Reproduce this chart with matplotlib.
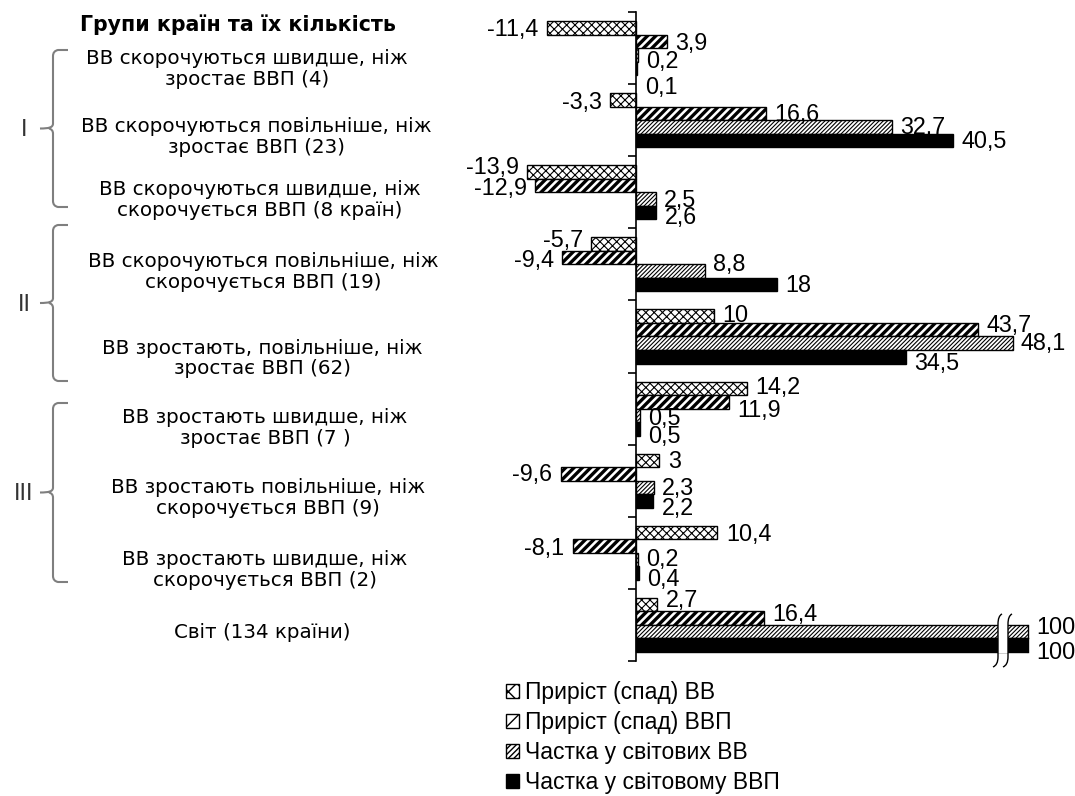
import numpy as np
import matplotlib
matplotlib.use("Agg")
import matplotlib.pyplot as plt
from matplotlib.patches import Patch, Rectangle, PathPatch
from matplotlib.path import Path
import matplotlib.transforms as mtransforms

plt.rcParams['font.family'] = ['Liberation Sans', 'DejaVu Sans']

# ---- data ----
groups = [
    "ВВ скорочуються швидше, ніж\nзростає ВВП (4)",
    "ВВ скорочуються повільніше, ніж\nзростає ВВП (23)",
    "ВВ скорочуються швидше, ніж\nскорочується ВВП (8 країн)",
    "ВВ скорочуються повільніше, ніж\nскорочується ВВП (19)",
    "ВВ зростають, повільніше, ніж\nзростає ВВП (62)",
    "ВВ зростають швидше, ніж\nзростає ВВП (7 )",
    "ВВ зростають повільніше, ніж\nскорочується ВВП (9)",
    "ВВ зростають швидше, ніж\nскорочується ВВП (2)",
    "Світ (134 країни)",
]
series_names = ["Приріст (спад) ВВ", "Приріст (спад) ВВП",
                "Частка у світових ВВ", "Частка у світовому ВВП"]
growth_vv = [-11.4, -3.3, -13.9, -5.7, 10, 14.2, 3, 10.4, 2.7]
growth_gdp = [3.9, 16.6, -12.9, -9.4, 43.7, 11.9, -9.6, -8.1, 16.4]
share_vv = [0.2, 32.7, 2.5, 8.8, 48.1, 0.5, 2.3, 0.2, 100]
share_gdp = [0.1, 40.5, 2.6, 18, 34.5, 0.5, 2.2, 0.4, 100]
clusters = ["I", "II", "III"]
title = "Групи країн та їх кількість"

series = [growth_vv, growth_gdp, share_vv, share_gdp]

# ---- layout / style ----
W, H = 1075, 796
fig = plt.figure(figsize=(W / 100, H / 100), dpi=100)
PX = mtransforms.Affine2D().scale(1 / W, -1 / H).translate(0, 1) + fig.transFigure

x_lo, x_hi = -21.0, 51.5
px_per_unit = 7.83
ax_left_px = 636 + x_lo * px_per_unit
ax_w_px = (x_hi - x_lo) * px_per_unit
ax_top_px, ax_bot_px = 12, 661
band_px = (ax_bot_px - ax_top_px) / len(groups)
ax = fig.add_axes([ax_left_px / W, 1 - ax_bot_px / H, ax_w_px / W, (ax_bot_px - ax_top_px) / H])
ax.set_xlim(x_lo, x_hi)
ax.set_ylim(len(groups) - 0.5, -0.5)

cut = (1028 - 636) / px_per_unit          # where the broken bars end
bar_h = 0.1875
offsets = (np.arange(4) - 1.5) * bar_h
styles = [
    dict(facecolor='white', hatch='xxxx', hlw=0.8, leg_hatch='xx', leg_hlw=1.0),
    dict(facecolor='white', hatch='////', hlw=2.4, leg_hatch='//', leg_hlw=3.0),
    dict(facecolor='white', hatch='////////', hlw=0.8, leg_hatch='//////', leg_hlw=0.8),
    dict(facecolor='black', hatch=None, hlw=1.0, leg_hatch=None, leg_hlw=1.0),
]

ypos = np.arange(len(groups))
clip_rect = Rectangle((x_lo - 5, -2), cut - x_lo + 5, len(groups) + 4,
                      transform=ax.transData)
bar_containers = []
for s, vals in enumerate(series):
    st = styles[s]
    with plt.rc_context({'hatch.linewidth': st['hlw'], 'hatch.color': 'black'}):
        bc = ax.barh(ypos + offsets[s], vals, height=bar_h, color=st['facecolor'],
                     edgecolor='black', linewidth=1.0, hatch=st['hatch'], zorder=2)
    for p in bc:
        if hasattr(p, 'set_hatch_linewidth'):
            p.set_hatch_linewidth(st['hlw'])
    bar_containers.append(bc)
    for g, (p, v) in enumerate(zip(bc, vals)):
        if v > cut:
            p.set_clip_path(clip_rect)
            ax.plot([cut, cut], [p.get_y(), p.get_y() + bar_h], color='black', lw=1.0, zorder=3)

# axis break on the bars that run past the frame
broken = [p for bc in bar_containers for p in bc if p.get_width() > cut]
if broken:
    y_top = min(p.get_y() for p in broken)
    y_bot = max(p.get_y() + bar_h for p in broken)
    gx0 = (998 - 636) / px_per_unit
    gx1 = (1008 - 636) / px_per_unit
    ax.add_patch(Rectangle((gx0, y_top - 0.01), gx1 - gx0, y_bot - y_top + 0.02,
                           facecolor='white', edgecolor='none', zorder=4))
    dx, dy = 1 / px_per_unit, 1 / band_px
    for gx in (gx0, gx1):
        top = y_top - 11 * dy
        bot = y_bot + 15 * dy
        verts = [(gx + 4 * dx, top), (gx, top + 2 * dy), (gx, top + 10 * dy),
                 (gx, bot - 10 * dy),
                 (gx, bot - 2 * dy), (gx - 5 * dx, bot)]
        codes = [Path.MOVETO, Path.CURVE3, Path.CURVE3, Path.LINETO,
                 Path.CURVE3, Path.CURVE3]
        ax.add_patch(PathPatch(Path(verts, codes), facecolor='none', edgecolor='black',
                               lw=1.0, zorder=5, clip_on=False))

# value labels (vertical nudges in pixels, downward positive)
label_dy = [
    [2, 2, 7, 19],
    [3, 1, 1, 1],
    [-4, 3, 1, 5],
    [-4, 3, -7, 1],
    [-1, -4, 0, 7],
    [-1, 9, 3, 8],
    [1, 1, 1, 7],
    [2, 2, 0, 6],
    [-4, -4, -4, 7],
]
for s, vals in enumerate(series):
    for g, v in enumerate(vals):
        xv = min(v, cut)
        txt = f"{v:g}".replace('.', ',')
        ax.annotate(txt, (xv, g + offsets[s]),
                    xytext=(6.0 if v >= 0 else -6.0, -label_dy[g][s] * 0.72),
                    textcoords='offset points',
                    ha='left' if v >= 0 else 'right', va='center',
                    fontsize=16.8, color='black', annotation_clip=False, zorder=6)

# spines and ticks
for side in ('top', 'right', 'bottom'):
    ax.spines[side].set_visible(False)
ax.spines['left'].set_position(('data', 0))
ax.spines['left'].set_linewidth(1.2)
ax.spines['left'].set_zorder(3)
ax.set_xticks([])
ax.set_yticks(np.arange(-0.5, len(groups), 1.0))
ax.tick_params(axis='y', direction='out', length=6, width=1.2, labelleft=False)
ax.patch.set_visible(False)

# category labels on the left
label_x = [247, 256, 260, 263, 262, 265, 268, 265, 262]
label_shift = [21, 17, 8, 8, 22, 19, 17, 17, 8]
blend = mtransforms.blended_transform_factory(fig.transFigure, ax.transData)
for g, name in enumerate(groups):
    ax.text(label_x[g] / W, g + label_shift[g] / band_px, name, transform=blend,
            ha='center', va='center', fontsize=14.3, linespacing=1.13,
            family='DejaVu Sans', color='black', clip_on=False)

fig.text(238 / W, 1 - 25 / H, title, ha='center', va='center',
         fontsize=14.8, fontweight='bold', family='DejaVu Sans')

# cluster braces
braces = [(50, 207), (225, 381), (403, 582)]
bx = 53
for (top, bot), lab in zip(braces, clusters):
    mid = (top + bot) / 2
    verts = [(68, top), (58, top), (53, top + 1), (bx, top + 6),
             (bx, mid - 5),
             (bx, mid - 1), (49, mid), (40, mid),
             (49, mid), (bx, mid + 1), (bx, mid + 5),
             (bx, bot - 6),
             (53, bot - 1), (58, bot), (68, bot)]
    codes = [Path.MOVETO, Path.LINETO, Path.CURVE3, Path.CURVE3,
             Path.LINETO,
             Path.CURVE4, Path.CURVE4, Path.CURVE4,
             Path.MOVETO, Path.CURVE3, Path.CURVE3,
             Path.LINETO,
             Path.CURVE3, Path.CURVE3, Path.LINETO]
    fig.add_artist(PathPatch(Path(verts, codes), facecolor='none', edgecolor='#7f7f7f',
                             lw=1.5, transform=PX))
    fig.text(24 / W, 1 - (mid + 2) / H, lab, ha='center', va='center',
             fontsize=17, color='#333333')

# legend
handles = []
for s in range(4):
    st = styles[s]
    with plt.rc_context({'hatch.linewidth': st['leg_hlw']}):
        h = Patch(facecolor=st['facecolor'], edgecolor='black', hatch=st['leg_hatch'], lw=1.0)
    if hasattr(h, 'set_hatch_linewidth'):
        h.set_hatch_linewidth(st['leg_hlw'])
    handles.append(h)
fig.legend(handles, series_names, loc='upper left',
           bbox_to_anchor=(506 / W, 1 - 681 / H), frameon=False, fontsize=16.5,
           handlelength=0.58, handleheight=0.58, handletextpad=0.25,
           labelspacing=0.31, borderpad=0, borderaxespad=0)

fig.savefig("out.png", dpi=100)
